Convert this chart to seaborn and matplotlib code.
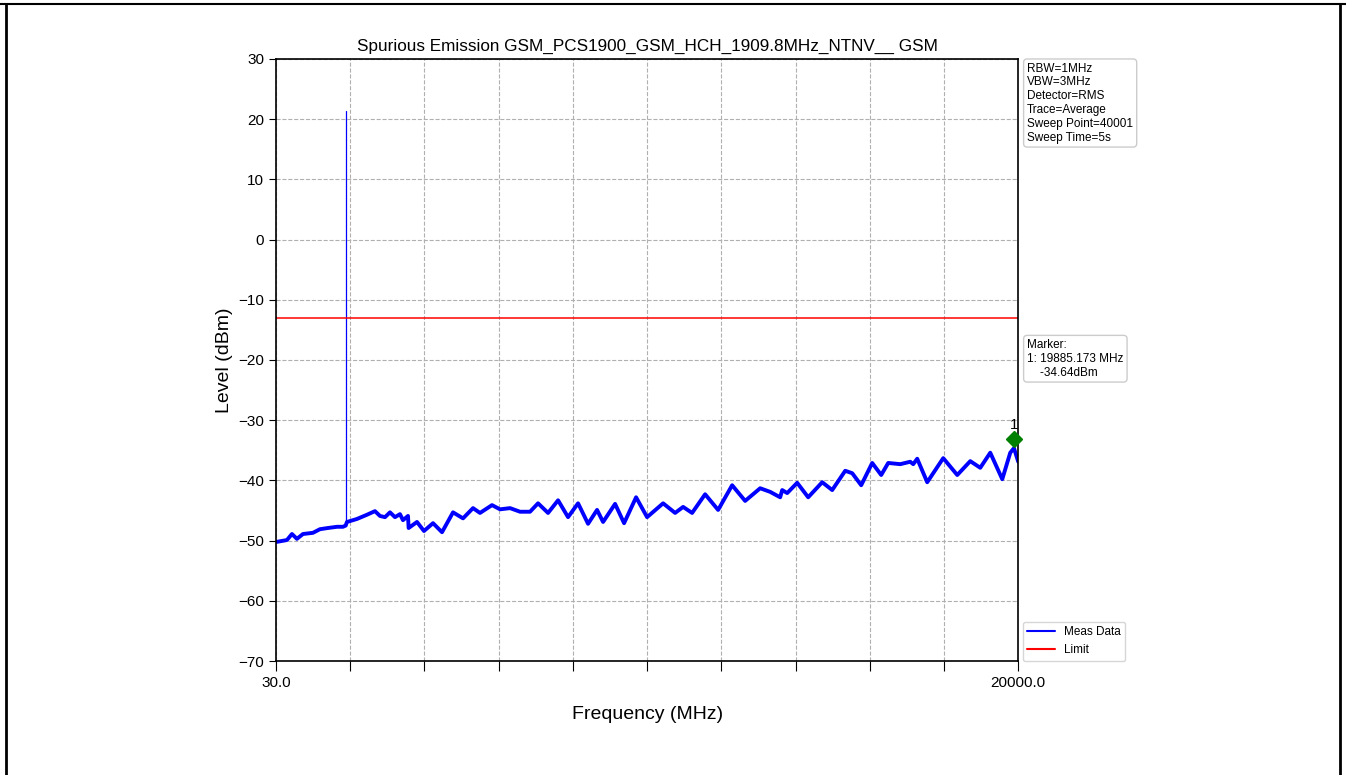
import numpy as np
import pandas as pd
import matplotlib.pyplot as plt
import seaborn as sns
from matplotlib.lines import Line2D

# %%
# trace (MHz, dBm)
freq_mhz = [
    57, 326, 461, 595, 757, 1026, 1214, 1430, 1672, 1833, 1905,
    1941, 2210, 2479, 2694, 2829, 2964, 3098, 3233, 3367, 3448, 3583,
    3600, 3825, 4013, 4256, 4498, 4794, 5063, 5332, 5520, 5843, 6059,
    6328, 6597, 6866, 7081, 7351, 7620, 7889, 8158, 8427, 8669, 8831,
    9154, 9396, 9719, 10015, 10446, 10769, 10984, 11226, 11576, 11926,
    12303, 12653, 13057, 13326, 13595, 13650, 13784, 14053, 14349,
    14726, 14995, 15345, 15533, 15775, 16071, 16313, 16502, 16825,
    17094, 17175, 17282, 17551, 17982, 18359, 18709, 18978, 19247,
    19570, 19785, 19885, 20000,
]
level_dbm = [
    -50.2, -49.9, -48.9, -49.7, -48.9, -48.7, -48.1, -47.9, -47.7, -47.7, -47.5,
    -46.9, -46.4, -45.7, -45.1, -45.9, -46.1, -45.3, -46.1, -45.6, -46.6, -45.9,
    -47.9, -46.9, -48.4, -47.1, -48.6, -45.3, -46.3, -44.6, -45.4, -44.1, -44.8,
    -44.6, -45.2, -45.2, -43.8, -45.4, -43.3, -46.1, -43.8, -47.2, -44.9, -46.9,
    -43.9, -47.1, -42.8, -46.1, -43.8, -45.4, -44.4, -45.4, -42.3, -44.9,
    -40.8, -43.4, -41.3, -41.9, -42.8, -41.6, -42.1, -40.4, -42.8,
    -40.3, -41.6, -38.4, -38.8, -40.8, -37.1, -39.1, -37.1, -37.3,
    -36.9, -37.3, -36.4, -40.3, -36.3, -39.1, -36.8, -37.9, -35.4,
    -39.8, -35.4, -34.64, -36.9,
]

spike_freq = 1909.8
spike_level = 21.4

limit_dbm = -13.0
marker_freq = 19885.173
marker_level = -34.64

x_ticks = np.linspace(30.0, 20000.0, 11)
x_ticklabels = ["30.0"] + [""] * 9 + ["20000.0"]
y_ticks = [-70, -60, -50, -40, -30, -20, -10, 0, 10, 20, 30]

settings_text = ("RBW=1MHz\nVBW=3MHz\nDetector=RMS\nTrace=Average\n"
                 "Sweep Point=40001\nSweep Time=5s")
marker_text = "Marker:\n1: 19885.173 MHz\n    -34.64dBm"

df = pd.DataFrame({"freq": freq_mhz, "level": level_dbm})

# %%
sns.set_style("white")
plt.rcParams["font.family"] = ["Liberation Sans", "DejaVu Sans"]
plt.rcParams["text.color"] = "black"
plt.rcParams["axes.labelcolor"] = "black"
plt.rcParams["xtick.color"] = "black"
plt.rcParams["ytick.color"] = "black"
plt.rcParams["xtick.major.size"] = 7
plt.rcParams["ytick.major.size"] = 5

fig = plt.figure(figsize=(13.46, 7.75), dpi=100)
ax = fig.add_axes([0.205, 0.147, 0.5515, 0.777])

sns.lineplot(data=df, x="freq", y="level", ax=ax, color="blue", lw=2.8,
             estimator=None, sort=False, legend=False)
ax.plot([spike_freq, spike_freq], [level_dbm[10], spike_level], color="blue", lw=0.9)
ax.axhline(limit_dbm, color="red", lw=1.1)

# marker (drawn slightly above the trace)
ax.plot(marker_freq, marker_level + 1.5, marker="D", color="green", ms=8,
        clip_on=False, zorder=5)
ax.text(marker_freq, marker_level + 2.7, "1", ha="center", va="bottom", fontsize=11)

ax.set_xlim(30.0, 20000.0)
ax.set_ylim(-70, 30)
ax.set_xticks(x_ticks)
ax.set_xticklabels(x_ticklabels)
ax.set_yticks(y_ticks)
ax.tick_params(axis="both", labelsize=11, direction="out", color="black",
               bottom=True, left=True)
ax.grid(True, ls="--", color="#b0b0b0", lw=0.8)
for sp in ax.spines.values():
    sp.set_color("black")
    sp.set_linewidth(1.2)

ax.set_title("Spurious Emission GSM_PCS1900_GSM_HCH_1909.8MHz_NTNV__ GSM", fontsize=12.3)
ax.set_xlabel("Frequency (MHz)", fontsize=14, labelpad=12)
ax.set_ylabel("Level (dBm)", fontsize=14)

handles = [Line2D([], [], color="blue", lw=1.5), Line2D([], [], color="red", lw=1.5)]
ax.legend(handles, ["Meas Data", "Limit"], loc="lower left",
          bbox_to_anchor=(1.006, 0.0), borderaxespad=0.0, fontsize=8.5,
          frameon=True, edgecolor="#cccccc", handlelength=2.3)

box = dict(boxstyle="round,pad=0.3", fc="white", ec="#cccccc", lw=1)
ax.text(1.012, 0.994, settings_text, transform=ax.transAxes, fontsize=8.5,
        va="top", ha="left", bbox=box, linespacing=1.2)
ax.text(1.012, 0.535, marker_text, transform=ax.transAxes, fontsize=8.5,
        va="top", ha="left", bbox=box, linespacing=1.2)

# page frame
fig.add_artist(Line2D([0.0, 1.0], [0.9945, 0.9945], color="black", lw=1.5,
                      transform=fig.transFigure))
fig.add_artist(Line2D([0.0045, 0.0045], [0.0, 0.9945], color="black", lw=2,
                      transform=fig.transFigure))
fig.add_artist(Line2D([0.9958, 0.9958], [0.0, 0.9945], color="black", lw=2,
                      transform=fig.transFigure))

fig.savefig("out.png", dpi=100)
